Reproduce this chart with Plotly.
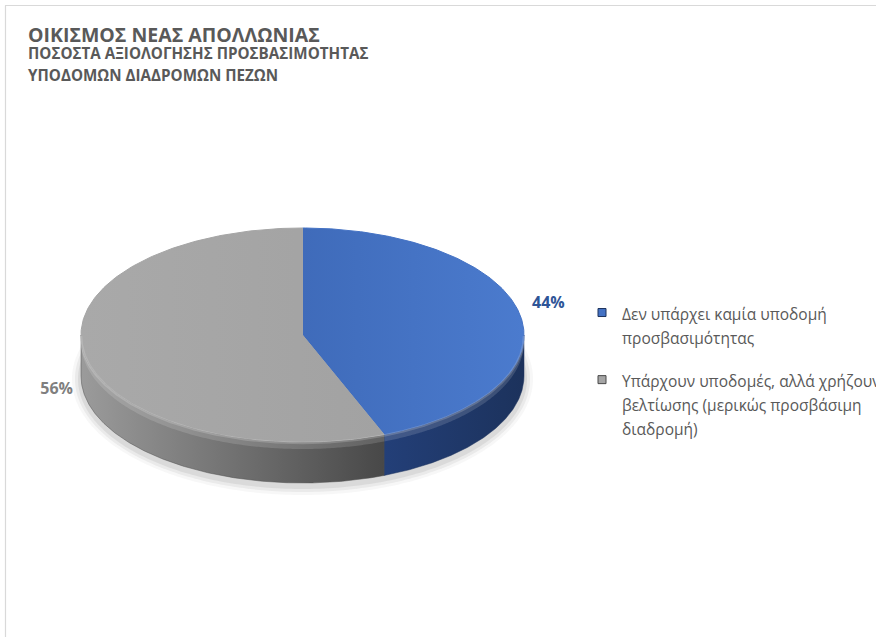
import numpy as np
import plotly.graph_objects as go

W, H = 876, 637
FONT = "Open Sans"

# ---- data -------------------------------------------------------------
categories = [
    ["Δεν υπάρχει καμία υποδομή", "προσβασιμότητας"],
    ["Υπάρχουν υποδομές, αλλά χρήζουν", "βελτίωσης (μερικώς προσβάσιμη", "διαδρομή)"],
]
values = [44, 56]
title_lines = [
    "ΟΙΚΙΣΜΟΣ ΝΕΑΣ ΑΠΟΛΛΩΝΙΑΣ",
    "ΠΟΣΟΣΤΑ ΑΞΙΟΛΟΓΗΣΗΣ ΠΡΟΣΒΑΣΙΜΟΤΗΤΑΣ",
    "ΥΠΟΔΟΜΩΝ ΔΙΑΔΡΟΜΩΝ ΠΕΖΩΝ",
]

# ---- styling ----------------------------------------------------------
top_colors = ["#4472C4", "#A5A5A5"]
top_grad = [("#3F6BBA", "#4B7BCE"), ("#A9A9A9", "#A2A2A2")]
side_grad = [("#1C325C", "#233F78"), ("#9B9B9B", "#484848")]
label_colors = ["#2E5597", "#7F7F7F"]
TEXT = "#595959"
LEGEND_GLYPH = 15.5     # glyph size of legend text
LEGEND_LINE = 18.5      # base size, sets the 1.3em line pitch

# tilted-disc geometry (axis units = pixels)
CX, CY, RX, RY, DEPTH = 302.5, 335.0, 221.5, 107.0, 41.0


def ell(theta_deg, dy=0.0, sx=1.0, sy=1.0):
    t = np.radians(theta_deg)
    return CX + sx * RX * np.sin(t), CY - sy * RY * np.cos(t) + dy


def arc(a0, a1, n=200, dy=0.0, sx=1.0, sy=1.0):
    th = np.linspace(a0, a1, n)
    return ell(th, dy, sx, sy)


def legend_name(lines):
    return "<br>".join(
        f"<span style='font-size:{LEGEND_GLYPH}px'>{ln}</span>" for ln in lines)


fig = go.Figure()

# soft shadow under the disc
for grow, alpha in [(9, 0.08), (6, 0.13), (3, 0.18)]:
    xs, ys = arc(0, 360, 300, dy=DEPTH + 3)
    xs = CX + (xs - CX) * (RX + grow) / RX
    ys = CY + DEPTH + 3 + (ys - CY - DEPTH - 3) * (RY + grow) / RY
    fig.add_trace(go.Scatter(x=xs, y=ys, fill="toself", mode="none",
                             fillcolor=f"rgba(150,150,150,{alpha})",
                             hoverinfo="skip", showlegend=False))

total = sum(values)
bounds = np.concatenate([[0], np.cumsum(values) / total * 360.0])

# side walls (only the front half of the rim is visible)
for i in range(len(values)):
    a0, a1 = bounds[i], bounds[i + 1]
    s0, s1 = max(a0, 90.0), min(a1, 270.0)
    if s1 <= s0:
        continue
    xt, yt = arc(s0, s1)
    xb, yb = arc(s1, s0, dy=DEPTH)
    xs = np.concatenate([xt, xb, xt[:1]])
    ys = np.concatenate([yt, yb, yt[:1]])
    c0, c1 = side_grad[i]
    left_c, right_c = (c1, c0) if i == 0 else (c0, c1)
    fig.add_trace(go.Scatter(
        x=xs, y=ys, fill="toself", mode="lines",
        line=dict(width=0.5, color=right_c if i == 0 else "#505050"),
        fillgradient=dict(type="horizontal",
                          colorscale=[[0, left_c], [1, right_c]]),
        hoverinfo="skip", showlegend=False))
    # rounded bend highlight along the upper part of the wall
    xt2, yt2 = arc(s0, s1)
    xb2, yb2 = arc(s1, s0, dy=7)
    fig.add_trace(go.Scatter(
        x=np.concatenate([xt2, xb2]), y=np.concatenate([yt2, yb2]),
        fill="toself", mode="none",
        fillcolor="rgba(255,255,255,0.14)",
        hoverinfo="skip", showlegend=False))

# top faces
for i in range(len(values)):
    a0, a1 = bounds[i], bounds[i + 1]
    xa, ya = arc(a0, a1)
    xs = np.concatenate([[CX], xa, [CX]])
    ys = np.concatenate([[CY], ya, [CY]])
    g0, g1 = top_grad[i]
    fig.add_trace(go.Scatter(
        x=xs, y=ys, fill="toself", mode="lines",
        line=dict(width=1, color=top_colors[i]),
        fillgradient=dict(type="horizontal", colorscale=[[0, g0], [1, g1]]),
        hoverinfo="skip", showlegend=False))

# light rim along the front edge of the top face
for i in range(len(values)):
    a0, a1 = bounds[i], bounds[i + 1]
    s0, s1 = max(a0, 90.0), min(a1, 270.0)
    if s1 <= s0:
        continue
    xr, yr = arc(s0, s1, dy=1)
    fig.add_trace(go.Scatter(x=xr, y=yr, mode="lines",
                             line=dict(width=2.5, color="rgba(255,255,255,0.18)"),
                             hoverinfo="skip", showlegend=False))

# percentage labels outside each slice
for i, v in enumerate(values):
    mid = (bounds[i] + bounds[i + 1]) / 2
    lx, _ = ell(mid, sx=1.13)
    ly = CY + 2 + DEPTH * 0.25 - 2.15 * RY * np.cos(np.radians(mid))
    fig.add_trace(go.Scatter(
        x=[lx], y=[ly], mode="text",
        text=[f"<b>{v / total * 100:.0f}%</b>"],
        textfont=dict(family=FONT, size=16, color=label_colors[i]),
        hoverinfo="skip", showlegend=False))

# legend entries
for i, lines in enumerate(categories):
    fig.add_trace(go.Scatter(
        x=[None], y=[None], mode="markers", name=legend_name(lines),
        legendgroup=f"g{i}",
        marker=dict(symbol="square", size=8, color=top_colors[i],
                    line=dict(width=1, color=side_grad[i][0 if i == 0 else 1]))))

# title block
title_y = [34, 53, 75]
title_sizes = [19.5, 15.2, 15.2]
for txt, yy, sz in zip(title_lines, title_y, title_sizes):
    fig.add_annotation(text=f"<b>{txt}</b>", x=26 / W, y=1 - yy / H,
                       xref="paper", yref="paper", xanchor="left",
                       yanchor="middle", showarrow=False,
                       font=dict(family=FONT, size=sz, color=TEXT))

# chart-area frame
fig.add_shape(type="line", xref="paper", yref="paper",
              x0=5 / W, x1=1.0, y0=1 - 5.5 / H, y1=1 - 5.5 / H,
              line=dict(color="#D9D9D9", width=1.2))
fig.add_shape(type="line", xref="paper", yref="paper",
              x0=5.5 / W, x1=5.5 / W, y0=0, y1=1 - 5.5 / H,
              line=dict(color="#D9D9D9", width=1.2))

fig.update_layout(
    width=W, height=H,
    margin=dict(l=0, r=0, t=0, b=0, autoexpand=False),
    paper_bgcolor="white", plot_bgcolor="white",
    xaxis=dict(range=[0, W], visible=False, fixedrange=True),
    yaxis=dict(range=[H, 0], visible=False, fixedrange=True),
    showlegend=True,
    legend=dict(x=(622 - 40) / W, y=1 - 294 / H, xanchor="left", yanchor="top",
                valign="top", tracegroupgap=16,
                font=dict(family=FONT, size=LEGEND_LINE, color=TEXT),
                bgcolor="rgba(0,0,0,0)"),
)

fig.write_html("out.html")
